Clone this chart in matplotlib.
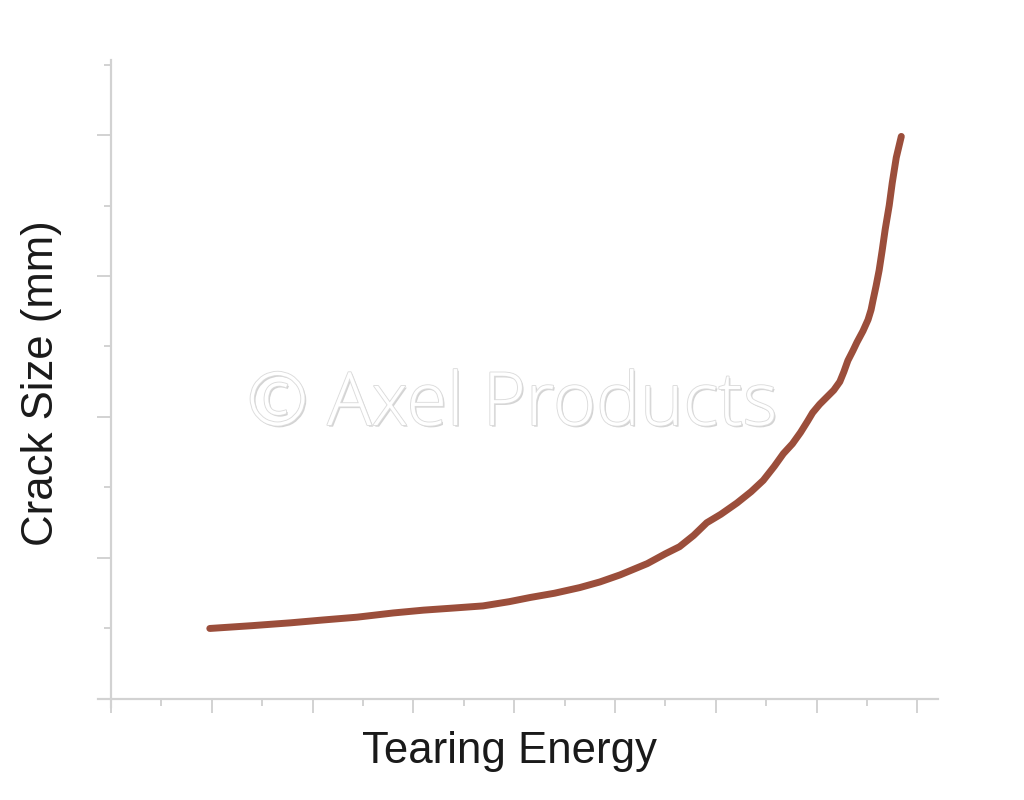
import matplotlib
matplotlib.use("Agg")
import matplotlib.pyplot as plt
import matplotlib.patheffects as pe
from matplotlib.ticker import MultipleLocator

# Data (arbitrary units)
tearing_energy = [0.98, 1.40, 1.78, 2.10, 2.44, 2.80, 3.10, 3.40, 3.69, 3.95,
                  4.16, 4.40, 4.65, 4.85, 5.05, 5.32, 5.50, 5.64, 5.78, 5.91,
                  6.05, 6.21, 6.35, 6.47, 6.58, 6.67, 6.76, 6.84, 6.91, 6.96,
                  7.03, 7.10, 7.17, 7.23, 7.27, 7.31, 7.36, 7.40, 7.46, 7.51,
                  7.54, 7.56, 7.59, 7.62, 7.65, 7.68, 7.72, 7.75, 7.79, 7.84]
crack_size = [0.50, 0.52, 0.54, 0.56, 0.58, 0.61, 0.63, 0.645, 0.66, 0.69,
              0.72, 0.75, 0.79, 0.83, 0.88, 0.96, 1.03, 1.08, 1.16, 1.25,
              1.31, 1.39, 1.47, 1.55, 1.65, 1.74, 1.81, 1.89, 1.97, 2.03,
              2.09, 2.14, 2.19, 2.25, 2.32, 2.40, 2.47, 2.53, 2.61, 2.69,
              2.76, 2.83, 2.93, 3.04, 3.18, 3.33, 3.50, 3.66, 3.84, 3.99]
x_label = "Tearing Energy"
y_label = "Crack Size (mm)"
watermark = "© Axel Products"

fig = plt.figure(figsize=(10.24, 8.0), dpi=100)
ax = fig.add_axes([98 / 1024, 1 - 707 / 800, (938 - 98) / 1024, (707 - 60) / 800])

ax.plot(tearing_energy, crack_size, color="#9b4e3b", lw=5.0,
        solid_capstyle="round", solid_joinstyle="round")

ax.set_xlim(-0.129, 8.204)
ax.set_ylim(-0.057, 4.532)

gray = "#d2d2d2"
for s in ["top", "right"]:
    ax.spines[s].set_visible(False)
ax.spines["left"].set_position(("data", 0))
ax.spines["bottom"].set_position(("data", 0))
for s in ["left", "bottom"]:
    ax.spines[s].set_color(gray)
    ax.spines[s].set_linewidth(1.6)

ax.xaxis.set_major_locator(MultipleLocator(1))
ax.xaxis.set_minor_locator(MultipleLocator(0.5))
ax.yaxis.set_major_locator(MultipleLocator(1))
ax.yaxis.set_minor_locator(MultipleLocator(0.5))
ax.tick_params(which="major", length=10, width=1.4, color=gray, direction="out",
               labelbottom=False, labelleft=False)
ax.tick_params(which="minor", length=5, width=1.4, color=gray, direction="out")

fig.text(510 / 1024, 1 - 751 / 800, x_label, ha="center", va="center",
         fontsize=31.5, family="Liberation Sans", color="#1a1a1a")
fig.text(42 / 1024, 1 - 383 / 800, y_label, ha="center", va="center",
         rotation=90, fontsize=31.5, family="Liberation Sans", color="#1a1a1a")

fig.text(512 / 1024, 1 - 406 / 800, watermark, ha="center", va="center",
         fontsize=53, family="Open Sans", fontweight="light", color="white",
         path_effects=[pe.withSimplePatchShadow(offset=(1.2, -1.2), shadow_rgbFace="#a8a8a8", alpha=0.5),
                       pe.Stroke(linewidth=1.3, foreground="#dcdcdc"),
                       pe.Normal()])

fig.savefig("out.png", dpi=100, facecolor="white")
